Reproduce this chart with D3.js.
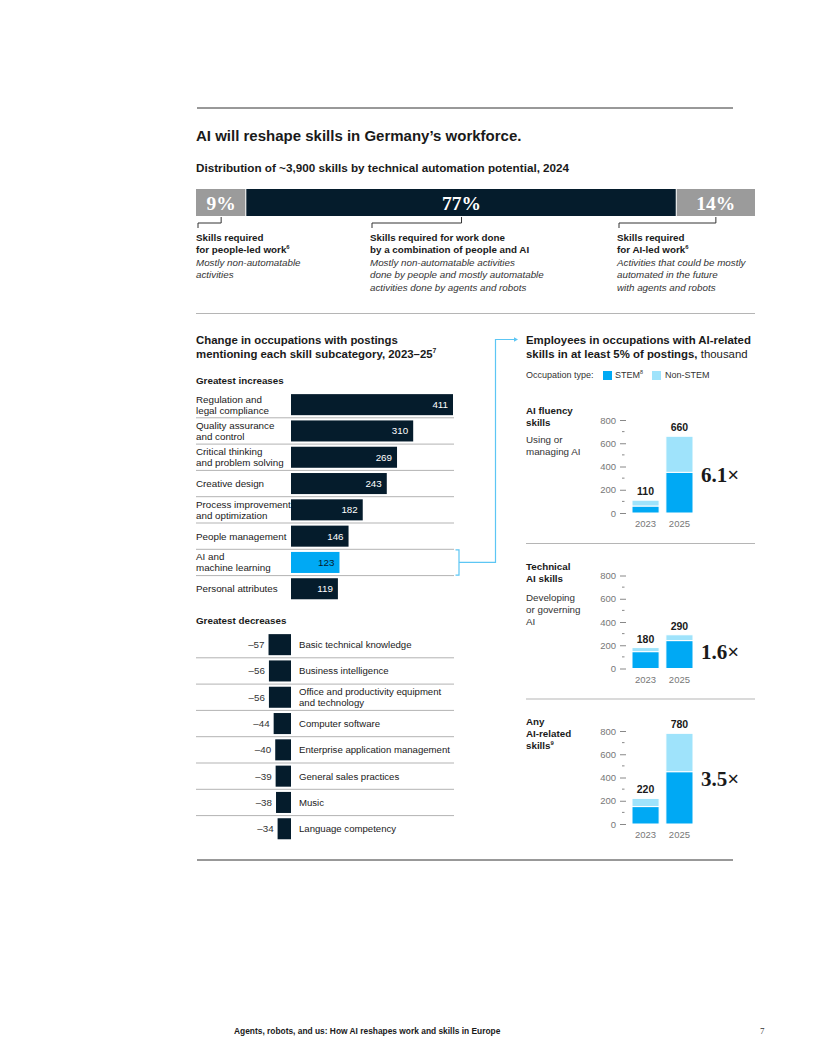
<!DOCTYPE html>
<html>
<head>
<meta charset="utf-8">
<script src="https://cdn.jsdelivr.net/npm/d3@7"></script>
<style>
  body { margin: 0; background: #fff; }
  svg { display: block; }
</style>
</head>
<body>
<div id="chart"></div>
<script>
//data//
var splitLabels = ["9%", "77%", "14%"],
    splitValues = [9, 77, 14];

var incCats = ["Regulation and|legal compliance", "Quality assurance|and control", "Critical thinking|and problem solving",
    "Creative design", "Process improvement|and optimization", "People management", "AI and|machine learning", "Personal attributes"],
    incValues = [411, 310, 269, 243, 182, 146, 123, 119];

var decCats = ["Basic technical knowledge", "Business intelligence", "Office and productivity equipment|and technology",
    "Computer software", "Enterprise application management", "General sales practices", "Music", "Language competency"],
    decValues = [-57, -56, -56, -44, -40, -39, -38, -34];

var panelTitles = [["AI fluency", "skills"], ["Technical", "AI skills"], ["Any", "AI-related", "skills^9"]],
    panelDescs = [["Using or", "managing AI"], ["Developing", "or governing", "AI"], []];
var years = ["2023", "2025"],
    stemValues = [[60, 350], [145, 240], [150, 450]],
    nonStemValues = [[50, 310], [35, 50], [70, 330]],
    totalLabels = [[110, 660], [180, 290], [220, 780]],
    multipliers = ["6.1×", "1.6×", "3.5×"];
var yTicks = [0, 200, 400, 600, 800],
    yMinor = [100, 300, 500, 700];
//

//colors and fonts
var navy = "#051c2c", grey = "#9b9b9b", blue = "#00a9f4", lightBlue = "#9fe3fb",
    linkBlue = "#5cc6f4", ink = "#1a1a1a", rule = "#b5b5b5";
var sans = "'Liberation Sans', Arial, sans-serif",
    serif = "'Liberation Serif', 'Times New Roman', serif";

var svg = d3.select("#chart").append("svg")
    .attr("width", 816)
    .attr("height", 1056)
    .style("font-family", sans);

// text helper, "^" marks a superscript at the end of a line
function addText(g, x, y, str, size, weight, opts) {
    opts = opts || {};
    var parts = String(str).split("^");
    var t = g.append("text")
        .attr("x", x)
        .attr("y", y)
        .style("font-size", size + "px")
        .style("font-weight", weight || "normal")
        .style("fill", opts.fill || ink)
        .attr("text-anchor", opts.anchor || "start");
    if (opts.italic) t.style("font-style", "italic");
    if (opts.family) t.style("font-family", opts.family);
    t.append("tspan").text(parts[0]);
    if (parts[1]) {
        t.append("tspan")
            .attr("dy", -size * 0.4)
            .style("font-size", (size * 0.6) + "px")
            .text(parts[1]);
    }
    return t;
}

function addLines(g, x, y, lh, lines, size, weight, opts) {
    lines.forEach(function (l, i) {
        addText(g, x, y + i * lh, l, size, weight, opts);
    });
}

//rules and title
svg.append("line").attr("x1", 197).attr("x2", 733).attr("y1", 108).attr("y2", 108)
    .style("stroke", "#333").style("stroke-width", 1);
svg.append("line").attr("x1", 197).attr("x2", 733).attr("y1", 860).attr("y2", 860)
    .style("stroke", "#333").style("stroke-width", 1);

addText(svg, 196, 141, "AI will reshape skills in Germany\u2019s workforce.", 15, "bold");
addText(svg, 196, 172, "Distribution of ~3,900 skills by technical automation potential, 2024", 11.7, "bold");

//split bar
var xSplit = d3.scaleLinear().domain([0, 100]).range([196, 755]);
var splitStarts = d3.cumsum([0].concat(splitValues.slice(0, -1)));
var splitColors = [grey, navy, grey];
var topG = svg.append("g");
splitValues.forEach(function (v, i) {
    var x0 = xSplit(splitStarts[i]), x1 = xSplit(splitStarts[i] + v);
    topG.append("rect")
        .attr("x", x0)
        .attr("y", 189)
        .attr("width", x1 - x0 - (i < splitValues.length - 1 ? 1 : 0))
        .attr("height", 27)
        .style("fill", splitColors[i]);
    addText(topG, (x0 + x1) / 2, 210, splitLabels[i], 19.5, "bold",
        { fill: "#fff", anchor: "middle", family: serif });
});

// brackets and notes
var noteX = [196, 370, 617];
var noteBold = [["Skills required", "for people-led work^6"],
    ["Skills required for work done", "by a combination of people and AI"],
    ["Skills required", "for AI-led work^6"]];
var noteItalic = [["Mostly non-automatable", "activities"],
    ["Mostly non-automatable activities", "done by people and mostly automatable", "activities done by agents and robots"],
    ["Activities that could be mostly", "automated in the future", "with agents and robots"]];
splitValues.forEach(function (v, i) {
    var xc = xSplit(splitStarts[i] + v / 2);
    topG.append("path")
        .attr("d", "M" + (noteX[i] + 2) + ",228V223H" + xc + "V217")
        .style("fill", "none")
        .style("stroke", "#333")
        .style("stroke-width", 1);
    addLines(topG, noteX[i], 241, 12.4, noteBold[i], 9.8, "bold");
    addLines(topG, noteX[i], 265.8, 12.4, noteItalic[i], 9.8, "normal", { italic: true, fill: "#333" });
});

svg.append("line").attr("x1", 196).attr("x2", 755).attr("y1", 313.5).attr("y2", 313.5)
    .style("stroke", rule).style("stroke-width", 1);

//left: change in occupations
var left = svg.append("g");
addText(left, 196, 344, "Change in occupations with postings", 11.4, "bold");
addText(left, 196, 358, "mentioning each skill subcategory, 2023\u201325^7", 11.4, "bold");
addText(left, 196, 384, "Greatest increases", 9.8, "bold");
addText(left, 196, 624, "Greatest decreases", 9.8, "bold");

var xBar = d3.scaleLinear().domain([0, 411]).range([291, 453]);

function rowLabel(g, x, yc, label, size, opts) {
    var lines = label.split("|");
    if (lines.length == 1) {
        addText(g, x, yc + 3.5, lines[0], size, "normal", opts);
    } else {
        addLines(g, x, yc - 2, 11, lines, size, "normal", opts);
    }
}

// increases
var yInc = d3.scaleBand().domain(incCats).range([391.5, 391.5 + 8 * 26.3])
    .paddingInner(0.2).paddingOuter(0.1);
incCats.forEach(function (c, i) {
    var y = yInc(c), h = yInc.bandwidth(), yc = y + h / 2;
    var isAI = c.indexOf("AI and") == 0;
    if (i < incCats.length - 1) {
        left.append("line")
            .attr("x1", 196).attr("x2", 454)
            .attr("y1", y + h + yInc.step() * 0.1).attr("y2", y + h + yInc.step() * 0.1)
            .style("stroke", "#b3b3b3").style("stroke-width", 1);
    }
    left.append("rect")
        .attr("x", xBar(0))
        .attr("y", y)
        .attr("width", xBar(incValues[i]) - xBar(0))
        .attr("height", h)
        .style("fill", isAI ? blue : navy);
    addText(left, xBar(incValues[i]) - 5, yc + 3.5, incValues[i], 9.8, "normal",
        { fill: isAI ? navy : "#fff", anchor: "end" });
    rowLabel(left, 196, yc, c, 9.8);
});

// decreases
var yDec = d3.scaleBand().domain(decCats).range([631.5, 631.5 + 8 * 26.3])
    .paddingInner(0.2).paddingOuter(0.1);
decCats.forEach(function (c, i) {
    var y = yDec(c), h = yDec.bandwidth(), yc = y + h / 2;
    if (i < decCats.length - 1) {
        left.append("line")
            .attr("x1", 196).attr("x2", 454)
            .attr("y1", y + h + yDec.step() * 0.1).attr("y2", y + h + yDec.step() * 0.1)
            .style("stroke", "#b3b3b3").style("stroke-width", 1);
    }
    left.append("rect")
        .attr("x", xBar(decValues[i]))
        .attr("y", y)
        .attr("width", xBar(0) - xBar(decValues[i]))
        .attr("height", h)
        .style("fill", navy);
    addText(left, xBar(decValues[i]) - 4, yc + 3.5, "\u2013" + Math.abs(decValues[i]), 9.8, "normal",
        { fill: "#333", anchor: "end" });
    rowLabel(left, 299, yc, c, 9.6);
});

//connector from AI row to right panel
var aiY = yInc(incCats[6]), aiH = yInc.bandwidth(), aiPad = yInc.step() * 0.1;
left.append("path")
    .attr("d", "M455.5," + (aiY - aiPad + 0.5) + "H459V" + (aiY + aiH + aiPad - 0.5) + "H455.5")
    .style("fill", "none").style("stroke", linkBlue).style("stroke-width", 1.2);
left.append("path")
    .attr("d", "M459," + (aiY + aiH / 2) + "H495.5V339.5H515")
    .style("fill", "none").style("stroke", linkBlue).style("stroke-width", 1.2);
left.append("path")
    .attr("d", "M514,337.3L518,339.5L514,341.7Z")
    .style("fill", linkBlue);

//right: employees
var right = svg.append("g");
addText(right, 526, 344, "Employees in occupations with AI-related", 11.4, "bold");
var t2 = addText(right, 526, 358, "skills in at least 5% of postings,", 11.4, "bold");
t2.append("tspan").style("font-weight", "normal").text(" thousand");

addText(right, 526, 378, "Occupation type:", 9, "normal", { fill: "#333" });
right.append("rect").attr("x", 603).attr("y", 371).attr("width", 9).attr("height", 9).style("fill", blue);
addText(right, 615, 378, "STEM^8", 9, "normal", { fill: "#333" });
right.append("rect").attr("x", 652).attr("y", 371).attr("width", 9).attr("height", 9).style("fill", lightBlue);
addText(right, 665, 378, "Non-STEM", 9, "normal", { fill: "#333" });

var panelZero = [513, 668.5, 824];
var xYear = d3.scaleBand().domain(years).range([632, 693]).paddingInner(0.2);

panelZero.forEach(function (z, p) {
    var g = right.append("g");
    var y = d3.scaleLinear().domain([0, 800]).range([z, z - 93]);

    addLines(g, 526, z - 99, 12, panelTitles[p], 9.8, "bold");
    addLines(g, 526, z - 70 - (p == 1 ? -2 : 0), 12, panelDescs[p], 9.8, "normal", { fill: "#333" });

    var axis = g.append("g")
        .attr("transform", "translate(626,0)")
        .call(d3.axisLeft(y).tickValues(yTicks).tickSize(6).tickPadding(4));
    axis.select(".domain").remove();
    axis.selectAll("line").style("stroke", "#888");
    axis.selectAll("text").style("font-family", sans).style("font-size", "9.5px").style("fill", "#777");
    g.selectAll(".minor")
        .data(yMinor)
        .enter().append("line")
        .attr("x1", 622).attr("x2", 624.5)
        .attr("y1", function (d) { return y(d); })
        .attr("y2", function (d) { return y(d); })
        .style("stroke", "#888");

    // stacked bars
    var rows = years.map(function (yr, i) {
        return { year: yr, stem: stemValues[p][i], nonStem: nonStemValues[p][i] };
    });
    var series = d3.stack().keys(["stem", "nonStem"])(rows);
    var cols = { stem: blue, nonStem: lightBlue };
    series.forEach(function (s) {
        g.selectAll(null)
            .data(s)
            .enter().append("rect")
            .attr("x", function (d) { return xYear(d.data.year); })
            .attr("y", function (d) { return y(d[1]); })
            .attr("width", xYear.bandwidth())
            .attr("height", function (d) { return y(d[0]) - y(d[1]); })
            .style("fill", cols[s.key])
            .style("stroke", "#fff")
            .style("stroke-width", 1);
    });

    years.forEach(function (yr, i) {
        var cx = xYear(yr) + xYear.bandwidth() / 2;
        addText(g, cx, y(totalLabels[p][i]) - 5, totalLabels[p][i], 10.5, "bold", { anchor: "middle" });
        addText(g, cx, z + 14, yr, 9.5, "normal", { anchor: "middle", fill: "#777" });
    });

    var mid = (stemValues[p][1] + nonStemValues[p][1]) / 2;
    addText(g, 701, y(mid) + 7, multipliers[p], 21, "bold", { family: serif });

    if (p < panelZero.length - 1) {
        g.append("line").attr("x1", 526).attr("x2", 755).attr("y1", z + 30.5).attr("y2", z + 30.5)
            .style("stroke", rule).style("stroke-width", 1);
    }
});

//footer
addText(svg, 234, 1034, "Agents, robots, and us: How AI reshapes work and skills in Europe", 8.4, "bold");
addText(svg, 760, 1034, "7", 9, "normal", { family: serif, fill: "#333" });
</script>
</body>
</html>
